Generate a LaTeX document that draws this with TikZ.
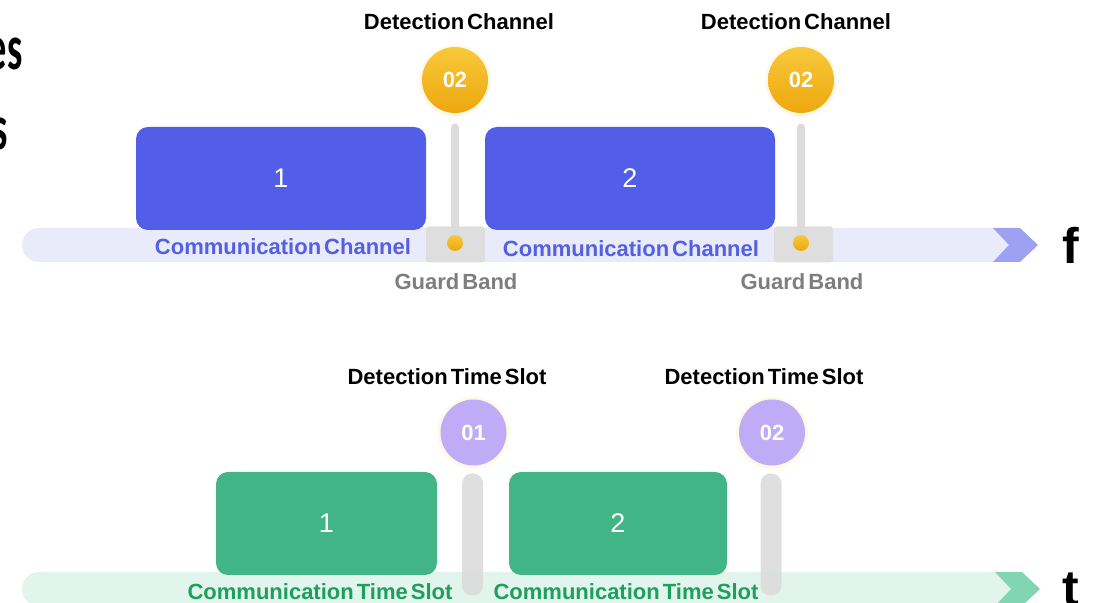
\documentclass[tikz,border=0pt]{standalone}
\usepackage{fontspec}
\setmainfont{Liberation Sans}
\newfontfamily\lblfont{Liberation Sans}[WordSpace=0.5]
\newfontfamily\carlitofont{Carlito}
\usetikzlibrary{shapes.geometric}
\definecolor{boxblue}{HTML}{535EE8}
\definecolor{bandblue}{HTML}{E9EBFB}
\definecolor{chevblue}{HTML}{9CA2F1}
\definecolor{txtblue}{HTML}{5360E2}
\definecolor{boxgreen}{HTML}{41B585}
\definecolor{bandgreen}{HTML}{E2F5EC}
\definecolor{chevgreen}{HTML}{82D5B2}
\definecolor{txtgreen}{HTML}{1E9F5E}
\definecolor{goldA}{HTML}{F8C93A}
\definecolor{goldB}{HTML}{EEA70E}
\definecolor{purp}{HTML}{C0ABF6}
\definecolor{guardgray}{HTML}{DEDEDE}
\definecolor{stickgray}{HTML}{DCDCDC}
\definecolor{labgray}{HTML}{7E7E7E}
\tikzset{
  chanbox/.style={rounded corners=6pt, inner sep=0pt, minimum width=#1, minimum height=51.5pt,
    text=white, font=\fontsize{13.5}{16}\selectfont},
  band/.style={rounded corners=8.5pt, inner sep=0pt, minimum height=17pt},
  badgegold/.style={circle, inner sep=0pt, minimum size=33pt, top color=goldA, bottom color=goldB,
    draw=none, text=white, font=\bfseries\fontsize{11}{13}\selectfont},
  badgepurp/.style={circle, inner sep=0pt, minimum size=33pt, fill=purp,
    text=white, font=\bfseries\fontsize{11}{13}\selectfont},
  glow/.style={circle, inner sep=0pt, minimum size=36pt, fill=#1, opacity=0.12},
  title/.style={font=\lblfont\bfseries\fontsize{11}{13}\selectfont, text=black, inner sep=0pt},
  lab/.style={font=\lblfont\bfseries\fontsize{11}{13}\selectfont, text=#1, inner sep=0pt},
  guard/.style={fill=guardgray, rounded corners=1.5pt, inner sep=0pt, minimum width=29.5pt, minimum height=18pt},
  thinstick/.style={fill=stickgray, rounded corners=2pt, inner sep=0pt, minimum width=4pt, minimum height=56.5pt},
  widestick/.style={fill=stickgray, opacity=0.9, rounded corners=5pt, inner sep=0pt, minimum width=10.5pt, minimum height=61pt},
  dot/.style={circle, inner sep=0pt, minimum size=8pt, top color=goldA, bottom color=goldB},
  axis/.style={font=\bfseries\fontsize{25}{28}\selectfont, inner sep=0pt},
  cuttext/.style={font=\carlitofont\bfseries\fontsize{32}{34}\selectfont, anchor=base east, inner sep=0pt},
}
\begin{document}
\begin{tikzpicture}[x=0.5pt,y=-0.5pt]
\useasboundingbox (0,0) rectangle (1094,603);
\clip (0,0) rectangle (1094,603);

% cut-off text at the left
\node[cuttext] (es) at (23,70) {\scalebox{0.6}[1]{es}};
\node[cuttext] (s) at (8,150) {\scalebox{0.6}[1]{s}};

% ===== frequency axis =====
\node[band, fill=bandblue, minimum width=494pt] (fband) at (516,245) {};
\fill[chevblue] (993,228) -- (1020,228) -- (1038,245) -- (1020,262) -- (993,262) -- (1009,245) -- cycle;
\node[axis] (f) at (1071,245) {f};

\node[guard] (g1) at (455.5,244.5) {};
\node[guard] (g2) at (803.5,244.5) {};

\node[chanbox=145pt, fill=boxblue] (b1) at (281,178.5) {1};
\node[chanbox=145pt, fill=boxblue] (b2) at (630,178.5) {2};

\node[thinstick] (s1) at (455,180) {};
\node[thinstick] (s2) at (801,180) {};

\node[dot] (d1) at (455,243) {};
\node[dot] (d2) at (801,243) {};

\node[glow=goldA] at (455,81) {};
\node[glow=goldA] at (801,81) {};
\node[badgegold] (c1) at (455,80) {02};
\node[badgegold] (c2) at (801,80) {02};

\node[title] (t1) at (459,22) {Detection Channel};
\node[title] (t2) at (796,22) {Detection Channel};

\node[lab=txtblue] (l1) at (283,247) {Communication Channel};
\node[lab=txtblue] (l2) at (631,249) {Communication Channel};

\node[lab=labgray] (gb1) at (456,282) {Guard Band};
\node[lab=labgray] (gb2) at (802,282) {Guard Band};

% ===== time axis =====
\node[band, fill=bandgreen, minimum width=494pt] (tband) at (516,589) {};
\fill[chevgreen] (995,572) -- (1022,572) -- (1040,589) -- (1022,606) -- (995,606) -- (1011,589) -- cycle;
\node[axis] (t) at (1071,589) {t};

\node[chanbox=110.5pt, fill=boxgreen] (e1) at (326.5,523.5) {1};
\node[chanbox=109pt, fill=boxgreen] (e2) at (618,523.5) {2};

\node[widestick] (w1) at (472.5,534.5) {};
\node[widestick] (w2) at (771,534.5) {};

\node[glow=goldA] at (473.5,433) {};
\node[glow=goldA] at (772,433) {};
\node[badgepurp] (p1) at (473.5,432.5) {01};
\node[badgepurp] (p2) at (772,432.5) {02};

\node[title] (u1) at (447,377) {Detection Time Slot};
\node[title] (u2) at (764,377) {Detection Time Slot};

\node[lab=txtgreen] (m1) at (320,592) {Communication Time Slot};
\node[lab=txtgreen] (m2) at (626,592) {Communication Time Slot};
\end{tikzpicture}
\end{document}
